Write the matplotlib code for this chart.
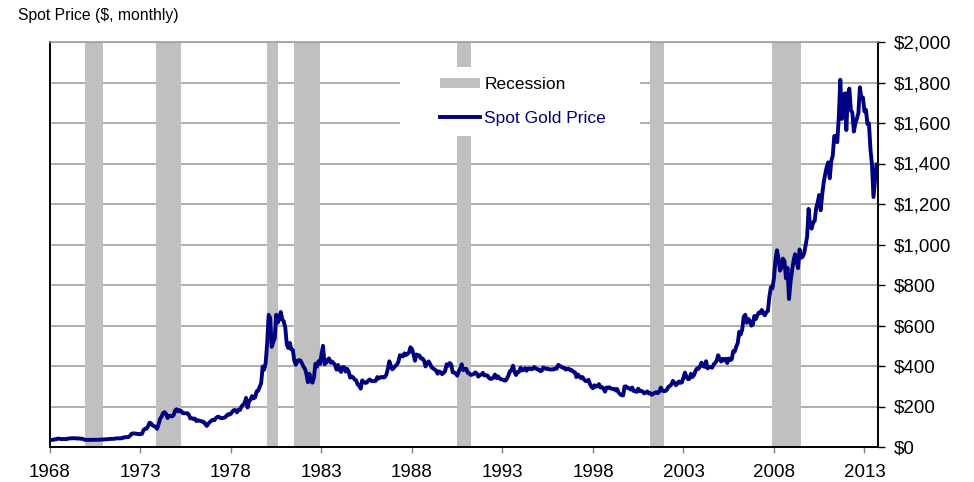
import numpy as np
import matplotlib
matplotlib.use("Agg")
import matplotlib.pyplot as plt
from matplotlib.patches import Rectangle, Patch
from matplotlib.lines import Line2D

plt.rcParams["font.family"] = ["Liberation Sans", "DejaVu Sans"]

# end-of-month spot gold price, starting Dec 1967
start_year = 1967
start_month = 12
prices_1960s = [
    35.2,
    35.2, 35.2, 38.0, 37.8, 41.5, 41.1, 39.5, 39.2, 39.6, 39.3, 38.8, 41.9,
    42.4, 42.5, 43.4, 43.3, 43.3, 41.3, 42.7, 41.1, 40.9, 39.2, 35.4, 35.2,
]
prices_1970s = [
    34.9, 35.0, 35.1, 35.7, 35.6, 35.4, 35.3, 35.4, 36.2, 37.5, 37.4, 37.4,
    38.0, 38.7, 38.9, 39.9, 40.5, 40.1, 41.0, 42.9, 42.6, 42.5, 43.0, 43.6,
    48.0, 48.3, 48.3, 49.0, 54.6, 65.1, 67.0, 67.0, 65.5, 64.9, 62.9, 63.9,
    65.1, 84.0, 90.0, 90.5, 102.0, 120.0, 117.0, 106.3, 103.0, 100.0, 90.0, 112.3,
    139.0, 150.0, 168.0, 172.0, 163.0, 143.0, 154.0, 154.0, 151.0, 158.0, 181.0, 186.5,
    175.8, 181.8, 177.3, 167.0, 167.0, 166.3, 166.7, 159.8, 141.3, 142.9, 138.2, 140.3,
    128.2, 132.3, 129.6, 128.4, 125.4, 123.8, 112.5, 104.0, 116.0, 123.2, 130.3, 134.5,
    132.3, 142.8, 148.9, 149.2, 143.0, 143.0, 144.1, 146.0, 154.1, 161.5, 160.0, 165.0,
    175.8, 182.3, 181.6, 170.9, 184.2, 183.1, 200.3, 208.7, 217.1, 242.6, 195.0, 226.0,
    233.7, 251.3, 240.1, 245.3, 274.6, 277.5, 296.5, 315.1, 397.3, 382.0, 415.7, 512.0,
]
prices_1980s = [
    653.0, 637.0, 494.5, 518.0, 535.5, 653.0, 614.3, 631.3, 666.8, 629.0, 619.8, 589.8,
    506.5, 489.0, 513.8, 482.8, 479.3, 426.0, 406.0, 425.5, 428.8, 427.0, 414.5, 397.5,
    387.0, 362.5, 320.0, 361.3, 325.3, 317.5, 342.8, 411.5, 397.0, 423.3, 409.5, 456.9,
    499.5, 408.5, 414.8, 429.3, 437.5, 416.0, 422.0, 414.3, 405.0, 382.0, 405.0, 382.4,
    370.8, 394.3, 394.5, 372.5, 385.8, 373.1, 342.4, 348.3, 343.8, 333.5, 329.0, 308.3,
    302.8, 287.8, 329.0, 321.4, 316.4, 317.8, 327.5, 333.3, 326.5, 325.1, 325.3, 327.0,
    345.5, 338.2, 344.0, 345.8, 342.9, 345.3, 357.5, 384.7, 423.2, 401.0, 383.5, 390.9,
    400.5, 405.9, 421.1, 453.3, 451.0, 447.3, 462.5, 453.4, 459.5, 466.5, 492.5, 484.1,
    458.0, 426.2, 457.0, 451.7, 452.0, 436.6, 436.8, 427.8, 397.7, 412.4, 422.6, 410.2,
    394.0, 387.8, 383.2, 377.6, 361.8, 373.0, 368.3, 359.8, 366.5, 375.3, 408.2, 401.0,
]
prices_1990s = [
    415.1, 407.7, 368.5, 367.8, 363.1, 352.2, 372.3, 387.8, 408.4, 379.5, 384.9, 386.2,
    366.0, 362.7, 355.7, 357.8, 360.4, 368.4, 363.0, 347.4, 354.9, 357.5, 366.3, 353.2,
    354.1, 353.1, 341.7, 336.4, 337.5, 343.4, 357.8, 340.0, 349.0, 339.3, 334.2, 333.3,
    329.5, 327.6, 337.8, 354.3, 374.8, 378.5, 401.8, 371.6, 355.5, 369.6, 370.9, 391.8,
    377.9, 381.7, 389.2, 376.5, 387.6, 388.3, 384.0, 385.8, 394.9, 389.1, 383.1, 383.3,
    374.9, 376.4, 392.0, 389.8, 385.3, 387.1, 383.4, 382.4, 384.0, 382.7, 387.8, 387.0,
    405.6, 400.7, 396.4, 391.3, 390.6, 382.0, 385.3, 386.5, 379.0, 379.5, 371.3, 369.3,
    345.5, 358.6, 348.2, 340.2, 345.6, 334.6, 326.1, 325.4, 332.1, 311.4, 296.8, 290.2,
    304.9, 297.4, 301.0, 310.7, 293.6, 296.3, 288.9, 273.4, 293.9, 292.3, 294.7, 287.8,
    287.1, 287.1, 279.5, 286.6, 268.6, 261.0, 255.6, 254.8, 299.0, 299.1, 291.4, 290.3,
]
prices_2000s = [
    283.3, 293.7, 276.8, 275.1, 272.3, 288.2, 276.8, 277.0, 273.7, 264.5, 269.1, 274.5,
    264.5, 266.7, 257.7, 263.2, 267.5, 270.6, 265.9, 273.0, 293.1, 278.8, 275.5, 276.5,
    282.3, 296.9, 301.4, 308.2, 326.6, 318.5, 304.7, 312.8, 323.7, 316.9, 319.1, 342.8,
    367.5, 347.5, 334.9, 336.8, 361.4, 346.0, 354.8, 375.6, 388.0, 386.3, 398.4, 416.3,
    399.8, 395.9, 423.7, 388.5, 393.3, 395.8, 391.4, 407.3, 415.7, 425.6, 453.4, 435.6,
    422.2, 435.5, 427.5, 435.7, 414.5, 437.1, 429.0, 433.3, 473.3, 470.8, 495.7, 513.0,
    568.8, 556.0, 582.0, 644.0, 653.0, 613.5, 632.5, 623.5, 599.3, 603.8, 646.7, 632.0,
    650.5, 664.2, 661.8, 677.0, 659.1, 650.5, 665.5, 672.0, 743.0, 789.5, 783.5, 833.8,
    923.3, 971.5, 933.5, 871.0, 885.8, 930.3, 918.0, 833.0, 884.5, 730.8, 814.5, 869.8,
    919.5, 952.0, 916.5, 883.3, 975.5, 934.5, 939.0, 955.5, 995.8, 1040.0, 1175.8, 1087.5,
]
prices_2010s = [
    1078.5, 1109.5, 1115.5, 1179.3, 1207.5, 1244.0, 1169.0, 1246.0, 1307.0, 1346.8, 1383.5, 1405.5,
    1327.0, 1411.0, 1439.0, 1535.5, 1536.5, 1505.5, 1628.5, 1813.5, 1620.0, 1722.0, 1746.0, 1565.0,
    1744.0, 1770.0, 1662.5, 1651.3, 1558.0, 1598.5, 1622.0, 1648.5, 1776.0, 1719.0, 1726.0, 1657.5,
    1664.8, 1594.8, 1598.3, 1469.0, 1394.5, 1234.5, 1314.5, 1394.8,
]

# NBER recessions (first and last month)
rec_start = ["1969-12", "1973-11", "1980-01", "1981-07", "1990-07", "2001-03", "2007-12"]
rec_end = ["1970-11", "1975-03", "1980-07", "1982-11", "1991-03", "2001-11", "2009-06"]

y_ticks = list(range(0, 2001, 200))
x_ticks = [1968, 1973, 1978, 1983, 1988, 1993, 1998, 2003, 2008, 2013]


def to_year(s, end=False):
    y, m = s.split("-")
    return int(y) + (int(m) - (0 if end else 1)) / 12


prices = np.array(prices_1960s + prices_1970s + prices_1980s + prices_1990s + prices_2000s + prices_2010s)
# each point sits at the end of its month
dates = start_year + (start_month + np.arange(len(prices))) / 12

W, H = 974, 482
fig = plt.figure(figsize=(W / 100, H / 100), dpi=100)
ax = fig.add_axes([50 / W, 1 - 447 / H, 828 / W, 405 / H])

ax.set_xlim(1968, 2013.75)
ax.set_ylim(0, 2000)

for s, e in zip(rec_start, rec_end):
    ax.axvspan(to_year(s), to_year(e, end=True), color="#c0c0c0", lw=0, zorder=1)

ax.set_axisbelow(True)
ax.grid(axis="y", color="#999999", lw=1.1)
ax.grid(axis="x", visible=False)

# white box behind legend
ax.add_patch(Rectangle((350 / 828, (447 - 136) / 405), 240 / 828, 69 / 405,
                       transform=ax.transAxes, facecolor="white", edgecolor="none", zorder=2))

ax.plot(dates, prices, color="#000080", lw=2.8, zorder=3, solid_joinstyle="round")

ax.yaxis.tick_right()
ax.set_yticks(y_ticks)
ax.set_yticklabels(["${:,}".format(v) for v in y_ticks])
ax.set_xticks(x_ticks)
ax.tick_params(axis="y", direction="out", length=5, width=1, color="black", pad=6.5, labelsize=13.5)
ax.tick_params(axis="x", direction="out", length=4, width=1, color="#808080", pad=8, labelsize=13.5)

for side in ["left", "bottom", "right"]:
    ax.spines[side].set_color("black")
    ax.spines[side].set_linewidth(1.4)
ax.spines["top"].set_color("#999999")
ax.spines["top"].set_linewidth(1.1)

handles = [Patch(facecolor="#c0c0c0", edgecolor="none"),
           Line2D([], [], color="#000080", lw=2.8)]
leg = ax.legend(handles, ["Recession", "Spot Gold Price"], loc="upper left",
                bbox_to_anchor=((440 - 50) / 828, (447 - 77) / 405), frameon=False,
                borderpad=0, borderaxespad=0, fontsize=12.5, handlelength=2.3,
                handleheight=0.55, handletextpad=0.25, labelspacing=1.1)
leg.set_zorder(5)
leg.get_texts()[1].set_color("#000080")

fig.text(18 / W, 1 - 20 / H, "Spot Price ($, monthly)", fontsize=11.3, va="baseline", ha="left")

fig.savefig("out.png", dpi=100)
